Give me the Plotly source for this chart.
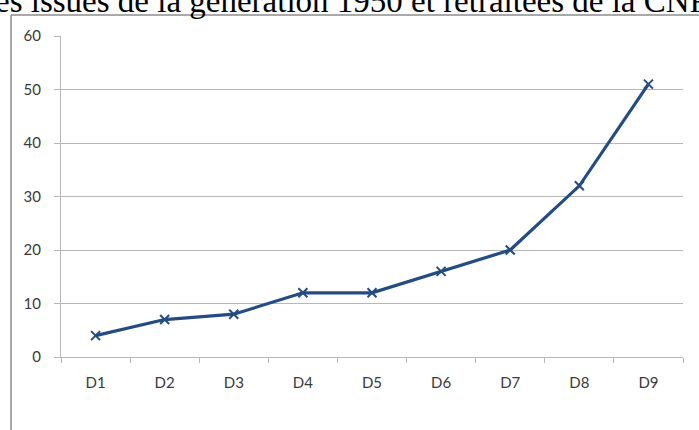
import plotly.graph_objects as go

# Deciles and values of the series
categories = ["D1", "D2", "D3", "D4", "D5", "D6", "D7", "D8", "D9"]
values = [4, 7, 8, 12, 12, 16, 20, 32, 51]
y_ticks = [0, 10, 20, 30, 40, 50, 60]
heading = "es issues de la génération 1950 et retraitées de la CNR"

W, H = 699, 430
L, R, T, B = 61, 16, 36, 73
pw, ph = W - L - R, H - T - B


def px_x(x):
    return (x - L) / pw


def px_y(y):
    return (H - B - y) / ph


fig = go.Figure()
fig.add_trace(go.Scatter(
    x=categories, y=values, mode="lines+markers",
    line=dict(color="#244c82", width=3.2),
    marker=dict(symbol="x-thin", size=9, line=dict(color="#244c82", width=2)),
    showlegend=False,
))

axis_grey = "#b7b7b7"
fig.update_layout(
    width=W, height=H,
    margin=dict(l=L, r=R, t=T, b=B),
    paper_bgcolor="white", plot_bgcolor="white",
    font=dict(family="Lato", size=15, color="#3a3a3a"),
    xaxis=dict(
        type="category", showgrid=False, showline=True, linecolor=axis_grey,
        linewidth=1, ticks="outside", tickson="boundaries", ticklen=5,
        tickcolor=axis_grey, range=[-0.5, 8.5], ticklabelstandoff=12,
    ),
    yaxis=dict(
        range=[0, 60], tickvals=y_ticks, showgrid=True, gridcolor=axis_grey,
        gridwidth=1, showline=True, linecolor=axis_grey, linewidth=1,
        ticks="outside", ticklen=6, tickcolor=axis_grey, zeroline=False,
        ticklabelstandoff=10,
    ),
)

# Chart frame (left and top edges)
border = "#8c8c8c"
fig.add_shape(type="line", xref="paper", yref="paper",
              x0=px_x(11), x1=px_x(11), y0=px_y(440), y1=px_y(15),
              line=dict(color=border, width=1.5))
fig.add_shape(type="line", xref="paper", yref="paper",
              x0=px_x(11), x1=px_x(710), y0=px_y(15), y1=px_y(15),
              line=dict(color=border, width=1.5))

# Running heading above the chart
fig.add_annotation(
    text=heading, xref="paper", yref="paper",
    x=px_x(-7), y=px_y(21), xanchor="left", yanchor="bottom",
    showarrow=False, font=dict(family="Liberation Serif", size=33, color="black"),
)

fig.write_html("out.html")
